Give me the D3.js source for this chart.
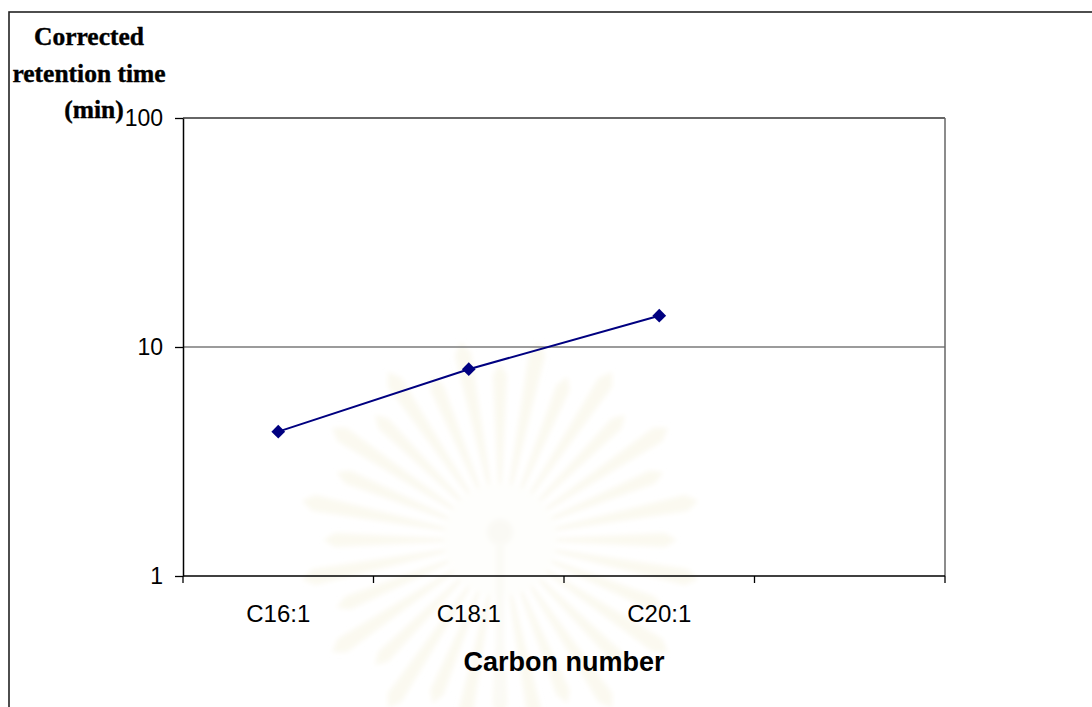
<!DOCTYPE html>
<html>
<head>
<meta charset="utf-8">
<script src="https://cdn.jsdelivr.net/npm/d3@7"></script>
<style>
  html, body { margin: 0; padding: 0; background: #fff; }
  svg { display: block; }
</style>
</head>
<body>
<svg id="chart" width="1092" height="707"></svg>
<script>
// Corrected retention time of monounsaturated fatty acids by carbon number
const categories = ["C16:1", "C18:1", "C20:1", ""];
const retentionTimes = [4.27, 8.0, 13.7];
const yTicks = [1, 10, 100];
const yTitleLines = ["Corrected", "retention time", "(min)"];
const xTitle = "Carbon number";

const W = 1092, H = 707;
const plot = { left: 183, top: 118, right: 945, bottom: 576 };

const svg = d3.select("#chart");

// outer frame (runs past the right and bottom edges)
svg.append("rect")
  .attr("x", 9).attr("y", 12)
  .attr("width", W + 20).attr("height", H + 20)
  .attr("fill", "#fff").attr("stroke", "#222").attr("stroke-width", 1.6);

// faint seal watermark behind the plot
const defs = svg.append("defs");
defs.append("filter").attr("id", "soft")
  .append("feGaussianBlur").attr("stdDeviation", 2.5);
const seal = svg.append("g").attr("transform", "translate(500,540)").attr("filter", "url(#soft)");
const nRays = 32;
for (let i = 0; i < nRays; i++) {
  const ac = (i / nRays) * 2 * Math.PI;
  const half = Math.PI / nRays * 0.62;
  const r0 = 55, r1 = 165 + (i % 2) * 25;
  const p = [
    [r0 * Math.cos(ac - half * 0.55), r0 * Math.sin(ac - half * 0.55)],
    [r1 * Math.cos(ac - half * 0.7), r1 * Math.sin(ac - half * 0.7)],
    [(r1 + 12) * Math.cos(ac), (r1 + 12) * Math.sin(ac)],
    [r1 * Math.cos(ac + half * 0.7), r1 * Math.sin(ac + half * 0.7)],
    [r0 * Math.cos(ac + half * 0.55), r0 * Math.sin(ac + half * 0.55)]
  ];
  seal.append("path").attr("d", "M" + p.join("L") + "Z").attr("fill", "#fbf9f0");
}
seal.append("circle").attr("r", 56).attr("fill", "#fefefc");
seal.append("circle").attr("cx", 0).attr("cy", -8).attr("r", 13).attr("fill", "#faf9f4");
seal.append("rect").attr("x", -4).attr("y", 6).attr("width", 8).attr("height", 160).attr("fill", "#fbfaf5");

// scales
const x = d3.scaleBand().domain(d3.range(categories.length))
  .range([plot.left, plot.right]).paddingInner(0).paddingOuter(0);
const y = d3.scaleLog().domain([1, 100]).range([plot.bottom, plot.top]);

// gridlines
svg.append("g").selectAll("line").data(yTicks.filter(t => t > 1 && t < 100)).join("line")
  .attr("x1", plot.left).attr("x2", plot.right)
  .attr("y1", d => y(d)).attr("y2", d => y(d))
  .attr("stroke", "#7a7a7a").attr("stroke-width", 1.5);

// plot area top and right edges
svg.append("line").attr("x1", plot.left).attr("x2", plot.right)
  .attr("y1", plot.top).attr("y2", plot.top).attr("stroke", "#333").attr("stroke-width", 1.5);
svg.append("line").attr("x1", plot.right).attr("x2", plot.right)
  .attr("y1", plot.top).attr("y2", plot.bottom).attr("stroke", "#666").attr("stroke-width", 1.5);

// y axis
const yAxis = d3.axisLeft(y).tickValues(yTicks).tickFormat(d3.format("d"))
  .tickSizeInner(8).tickSizeOuter(0).tickPadding(12);
const gy = svg.append("g").attr("transform", `translate(${plot.left},0)`).call(yAxis);
gy.select(".domain").attr("stroke", "#000").attr("stroke-width", 1.5);
gy.selectAll(".tick line").attr("stroke", "#000").attr("stroke-width", 1.3);
gy.selectAll(".tick text").attr("font-family", "Liberation Sans, Arial, sans-serif")
  .attr("font-size", 23).attr("fill", "#000");

// x axis with ticks on category boundaries
const xBoundaries = d3.range(categories.length + 1).map(i => plot.left + i * x.bandwidth());
svg.append("line").attr("x1", plot.left).attr("x2", plot.right)
  .attr("y1", plot.bottom).attr("y2", plot.bottom).attr("stroke", "#000").attr("stroke-width", 1.5);
svg.append("g").selectAll("line").data(xBoundaries).join("line")
  .attr("x1", d => d).attr("x2", d => d)
  .attr("y1", plot.bottom).attr("y2", plot.bottom + 7)
  .attr("stroke", "#000").attr("stroke-width", 1.3);
svg.append("g").selectAll("text").data(categories).join("text")
  .attr("x", (d, i) => x(i) + x.bandwidth() / 2)
  .attr("y", 622)
  .attr("text-anchor", "middle")
  .attr("font-family", "Liberation Sans, Arial, sans-serif")
  .attr("font-size", 24).attr("fill", "#000")
  .text(d => d);

// axis titles
svg.append("text").attr("x", (plot.left + plot.right) / 2).attr("y", 671)
  .attr("text-anchor", "middle")
  .attr("font-family", "Liberation Sans, Arial, sans-serif")
  .attr("font-weight", "bold").attr("font-size", 27).attr("fill", "#000")
  .text(xTitle);

svg.append("g").selectAll("text").data(yTitleLines).join("text")
  .attr("x", (d, i) => i === 2 ? 94 : 89)
  .attr("y", (d, i) => 45 + i * 36.5)
  .attr("text-anchor", "middle")
  .attr("font-family", "Liberation Serif, Times New Roman, serif")
  .attr("font-weight", "bold").attr("font-size", 25.5).attr("fill", "#000")
  .attr("stroke", "#000").attr("stroke-width", 0.4)
  .text(d => d);

// series line and diamond markers
const pts = retentionTimes.map((v, i) => [x(i) + x.bandwidth() / 2, y(v)]);
svg.append("path").attr("d", d3.line()(pts))
  .attr("fill", "none").attr("stroke", "#000080").attr("stroke-width", 2);
svg.append("g").selectAll("path").data(pts).join("path")
  .attr("transform", d => `translate(${d[0]},${d[1]})`)
  .attr("d", d3.symbol(d3.symbolDiamond2, 120)())
  .attr("fill", "#000080");
</script>
</body>
</html>
